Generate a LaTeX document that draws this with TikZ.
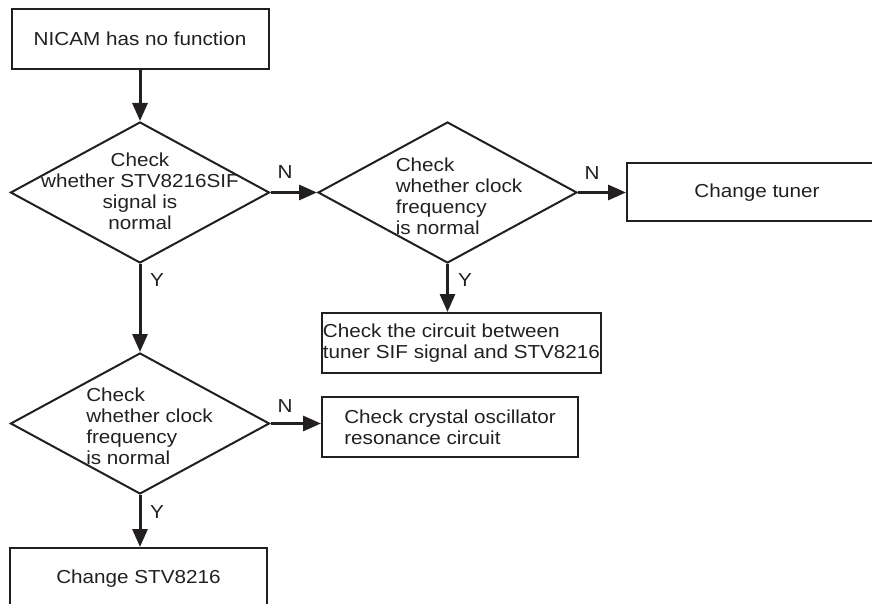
\documentclass[tikz,border=0pt]{standalone}
\usepackage{fontspec}
\setmainfont{Liberation Sans}[FakeStretch=1.1]
\usetikzlibrary{shapes.geometric,arrows.meta}
\definecolor{Ink}{HTML}{231F20}

\begin{document}
\begin{tikzpicture}[x=0.5pt,y=-0.5pt,
  every node/.style={text=Ink,font=\fontsize{9.4}{10.5}\selectfont},
  stepbox/.style={draw=Ink,line width=1pt,rectangle,inner sep=0pt,align=left},
  choice/.style={draw=Ink,line width=1pt,diamond,inner sep=0pt,minimum width=129.5pt,minimum height=70.5pt},
  flow/.style={draw=Ink,line width=1.5pt,-{Triangle[length=9pt,width=7.5pt]}}]
\clip (0,0) rectangle (872,604);
% boxes
\node[stepbox,minimum width=128.5pt,minimum height=30pt] (start) at (140,39) {NICAM has no function};
\node[stepbox,minimum width=130pt,minimum height=29pt] (tuner) at (757,192.5) {Change tuner};
\node[stepbox,minimum width=139.5pt,minimum height=30pt] (circ) at (461.5,343) {Check the circuit between\\tuner SIF signal and STV8216};
\node[stepbox,minimum width=128pt,minimum height=30pt] (xtal) at (450,427) {Check crystal oscillator\\resonance circuit};
\node[stepbox,minimum width=128.5pt,minimum height=31pt] (swap) at (138.5,579) {Change STV8216};
% decisions
\node[choice] (q1) at (140,192.5) {};
\node[choice] (q2) at (447.5,192.5) {};
\node[choice] (q3) at (140,423.5) {};
\node[align=center] (q1txt) at (140,191.5) {Check\\whether STV8216SIF\\signal is\\normal};
\node[align=left] (q2txt) at (459,196) {Check\\whether clock\\frequency\\is normal};
\node[align=left] (q3txt) at (149.5,426) {Check\\whether clock\\frequency\\is normal};
% connectors
\draw[flow] (start) -- (q1);
\draw[flow] (q1.east) -- (q2.west);
\draw[flow] (q2.east) -- (tuner.west);
\draw[flow] (q2.south) -- (q2.south |- circ.north);
\draw[flow] (q1.south) -- (q3.north);
\draw[flow] (q3.east) -- (q3.east -| xtal.west);
\draw[flow] (q3.south) -- (q3.south |- swap.north);
% branch labels
\node (n1) at (285,172) {N};
\node (n2) at (592,173) {N};
\node (n3) at (285,406) {N};
\node (y1) at (157,280) {Y};
\node (y2) at (465,280) {Y};
\node (y3) at (157,512) {Y};
\end{tikzpicture}
\end{document}
